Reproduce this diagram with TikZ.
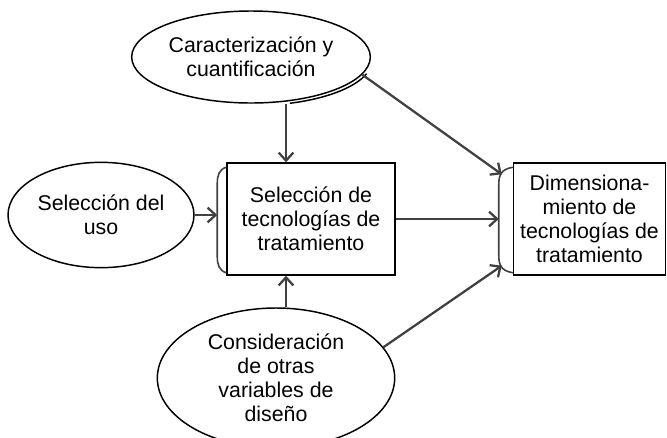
\documentclass[tikz,border=0pt]{standalone}
\usepackage{fontspec}
\setmainfont{Liberation Sans}
\usetikzlibrary{shapes.geometric, arrows.meta, calc}

\begin{document}
\begin{tikzpicture}[x=0.75pt,y=-0.75pt,
	oval/.style={draw,ellipse,line width=1.1pt,inner sep=0pt,align=center,font=\fontsize{16}{18}\selectfont},
	caja/.style={draw,rectangle,line width=1.1pt,inner sep=0pt,align=center,font=\fontsize{16}{18}\selectfont},
	flecha/.style={draw=black!75,line width=1.7pt,-{Straight Barb[length=6pt,width=11pt]}},
	corchete/.style={draw=black!75,line width=1.2pt}]
	\useasboundingbox (0,0) rectangle (667,437);
	
	%ellipses
	\node[oval,minimum width=179pt,minimum height=69pt] (car) at (251,57) {Caracterización y\\cuantificación};
	\node[oval,minimum width=139.5pt,minimum height=79pt] (uso) at (101,215) {Selección del\\uso};
	\node[oval,minimum width=178pt,minimum height=105pt] (cons) at (276,378) {Consideración\\de otras\\variables de\\diseño};
	%
	\draw[line width=1.1pt] ([shift={(2,2.5)}]car.center) ++(18:119.5 and 46) arc[start angle=18,end angle=72,x radius=119.5,y radius=46];	%shadow
	
	%boxes
	\node[caja,minimum width=126pt,minimum height=84pt] (sel) at (311,219) {Selección de\\tecnologías de\\tratamiento};
	\node[caja,minimum width=114pt,minimum height=84pt] (dim) at (589.5,219) {Dimensiona-\\miento de\\tecnologías de\\tratamiento};
	
	%brackets
	\draw[corchete] ($(sel.north west)+(0,5)$) .. controls ($(sel.north west)+(-7,7)$) and ($(sel.north west)+(-9,13)$) .. ($(sel.north west)+(-9,21)$)
		-- ($(sel.south west)+(-9,-19)$) .. controls ($(sel.south west)+(-9,-11)$) and ($(sel.south west)+(-7,-5)$) .. ($(sel.south west)+(0,-3)$);
	\draw[corchete] ($(dim.north west)+(0,5)$) .. controls ($(dim.north west)+(-12,7)$) and ($(dim.north west)+(-14,13)$) .. ($(dim.north west)+(-14,23)$)
		-- ($(dim.south west)+(-14,-21)$) .. controls ($(dim.south west)+(-14,-11)$) and ($(dim.south west)+(-12,-5)$) .. ($(dim.south west)+(0,-3)$);
	%
	\coordinate (sel-l) at ($(sel.west)+(-9,-4)$);
	\coordinate (sel-t) at ($(sel.north)+(-25,0)$);
	\coordinate (sel-b) at ($(sel.south)+(-25,0)$);
	\coordinate (dim-t) at ($(dim.north west)+(-11,12)$);
	\coordinate (dim-m) at ($(dim.west)+(-14,0)$);
	\coordinate (dim-b) at ($(dim.south west)+(-11,-10)$);
	
	%arrows
	\draw[flecha] (uso.east) -- (uso.east -| sel-l);
	\draw[flecha] (sel-t |- car.south) -- (sel-t);
	\draw[flecha] (sel-b |- cons.north) -- (sel-b);
	\draw[flecha] (sel.east) -- (sel.east -| dim-m);
	\draw[flecha] (car.-9) -- (dim-t);
	\draw[flecha] (cons.16) -- (dim-b);
	
\end{tikzpicture}
\end{document}
